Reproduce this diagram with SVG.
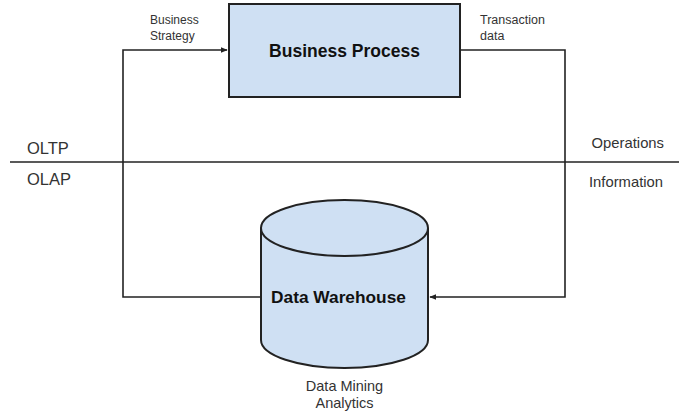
<svg xmlns="http://www.w3.org/2000/svg" width="700" height="417" viewBox="0 0 700 417">
<defs>
<marker id="arr" viewBox="0 0 10 10" refX="9" refY="5" markerWidth="7" markerHeight="7" orient="auto-start-reverse" markerUnits="userSpaceOnUse">
<path d="M0,1 L10,5 L0,9 z" fill="#222"/>
</marker>
<style>
.n{fill:#cfe0f3;stroke:#222;stroke-width:2}
.c{fill:none;stroke:#222;stroke-width:1.6}
.t{font-family:"Liberation Sans",Arial,sans-serif;fill:#333}
.b{font-family:"Liberation Sans",Arial,sans-serif;font-weight:bold;fill:#111}
</style>
</defs>
<rect width="700" height="417" fill="#fff"/>
<g id="connectors">
<polyline class="c" points="261,297 123,297 123,50 227,50" marker-end="url(#arr)"/>
<polyline class="c" points="460,50 565,50 565,297 430,297" marker-end="url(#arr)"/>
<line class="c" x1="10" y1="162" x2="679" y2="162" stroke-width="2"/>
</g>
<g id="business-process">
<rect class="n" x="229" y="4" width="231" height="93"/>
<text class="b" x="344.5" y="57" font-size="17.5" text-anchor="middle">Business Process</text>
</g>
<g id="data-warehouse">
<path class="n" d="M261,228 L261,340 A83.5,28 0 0 0 428,340 L428,228 A83.5,28 0 0 0 261,228 Z"/>
<path class="n" fill="none" d="M261,228 A83.5,28 0 0 0 428,228"/>
<text class="b" x="338.5" y="303" font-size="17.3" text-anchor="middle">Data Warehouse</text>
</g>
<g id="labels">
<text class="t" x="150" y="24" font-size="12">Business</text>
<text class="t" x="150" y="40" font-size="12">Strategy</text>
<text class="t" x="480" y="24" font-size="12.5">Transaction</text>
<text class="t" x="480" y="40" font-size="12.5">data</text>
<text class="t" x="27" y="154" font-size="16.5">OLTP</text>
<text class="t" x="27" y="185" font-size="16.5">OLAP</text>
<text class="t" x="664" y="148" font-size="14.8" text-anchor="end">Operations</text>
<text class="t" x="663" y="187" font-size="14.8" text-anchor="end">Information</text>
<text class="t" x="344.5" y="391" font-size="14.5" text-anchor="middle">Data Mining</text>
<text class="t" x="344.5" y="408" font-size="14.5" text-anchor="middle">Analytics</text>
</g>
</svg>
